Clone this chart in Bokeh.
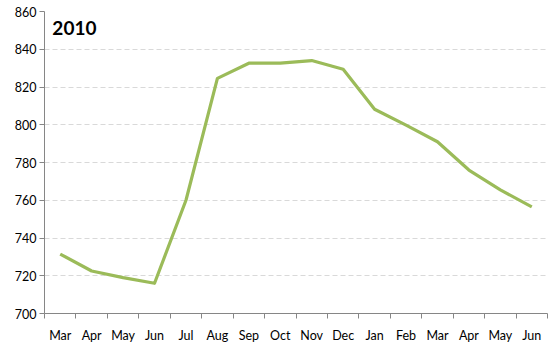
from bokeh.plotting import figure
from bokeh.models import FixedTicker, Range1d, Label, ColumnDataSource
from bokeh.embed import file_html
from bokeh.resources import INLINE

months = ["Mar", "Apr", "May", "Jun", "Jul", "Aug", "Sep", "Oct", "Nov", "Dec",
          "Jan", "Feb", "Mar", "Apr", "May", "Jun"]
values = [731.5, 722.5, 719, 716, 760, 824.6, 832.6, 832.6, 834, 829.4,
          808.2, 799.8, 791, 776, 765.5, 756.5]
y_ticks = [700, 720, 740, 760, 780, 800, 820, 840, 860]
title_text = "2010"

n = len(months)
xs = [i + 0.5 for i in range(n)]
src = ColumnDataSource(dict(x=xs, y=values))

p = figure(width=550, height=350, output_backend="svg", toolbar_location=None,
           x_range=Range1d(0, n), y_range=Range1d(700, 860),
           min_border_left=44, min_border_right=3, min_border_top=11, min_border_bottom=37)
p.outline_line_color = None
p.background_fill_color = "white"
p.border_fill_color = "white"

p.line("x", "y", source=src, line_color="#9BBB59", line_width=3.2, line_join="round")

# y axis
p.yaxis.ticker = FixedTicker(ticks=y_ticks)
p.yaxis.axis_line_color = "#868686"
p.yaxis.major_tick_line_color = "#868686"
p.yaxis.major_tick_out = 5
p.yaxis.major_tick_in = 0
p.yaxis.minor_tick_line_color = None
p.yaxis.major_label_standoff = 3
p.yaxis.major_label_text_font = "Lato"
p.yaxis.major_label_text_font_size = "12.5px"
p.yaxis.major_label_text_color = "#000000"

# x axis
p.xaxis.ticker = FixedTicker(ticks=xs, minor_ticks=list(range(n + 1)))
p.xaxis.major_label_overrides = {x: m for x, m in zip(xs, months)}
p.xaxis.axis_line_color = "#868686"
p.xaxis.major_tick_line_color = None
p.xaxis.major_tick_out = 5
p.xaxis.minor_tick_line_color = "#868686"
p.xaxis.minor_tick_out = 5
p.xaxis.minor_tick_in = 0
p.xaxis.major_label_standoff = 9
p.xaxis.major_label_text_font = "Lato"
p.xaxis.major_label_text_font_size = "12.5px"
p.xaxis.major_label_text_color = "#000000"

p.xgrid.grid_line_color = None
p.ygrid.grid_line_color = "#D9D9D9"
p.ygrid.grid_line_dash = "5 3"
p.ygrid.grid_line_width = 1

p.add_layout(Label(x=0.25, y=851.5, text=title_text, text_font="Lato",
                   text_font_style="bold", text_font_size="19px",
                   text_baseline="middle", text_color="#000000"))

open("out.html", "w").write(file_html(p, INLINE))
